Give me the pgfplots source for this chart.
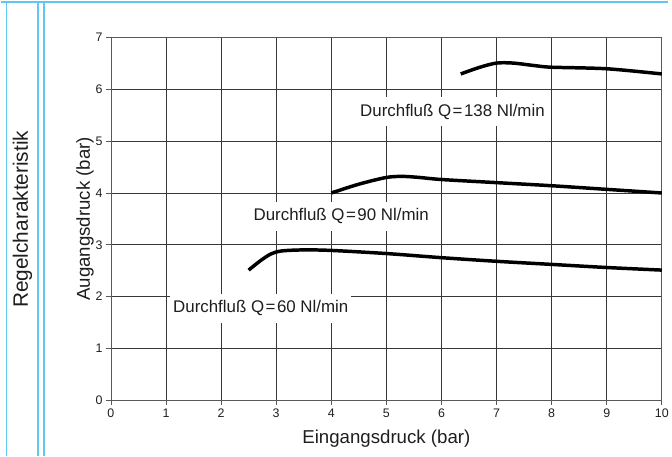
\documentclass[border=0pt]{standalone}
\usepackage{pgfplots}
\pgfplotsset{compat=1.18}
\usepackage{fontspec}
\setmainfont{Liberation Sans}
\definecolor{frameblue}{RGB}{95,200,240}
\definecolor{gridgray}{RGB}{55,55,55}
\definecolor{txt}{RGB}{30,30,30}

\begin{document}
\begin{tikzpicture}
\path (0pt,0pt) rectangle (672pt,459pt);
% blue frame of the data sheet
\draw[frameblue, line width=1.5pt] (0pt,457pt) -- (672pt,457pt);
\foreach \xx in {5.5,37.5,43.5} \draw[frameblue, line width=1.2pt] (\xx pt,0pt) -- (\xx pt,457pt);
\node[rotate=90, text=txt, font=\fontsize{21}{21}\selectfont] at (22pt,238pt) {Regelcharakteristik};

\begin{axis}[
    at={(111pt,56pt)}, anchor=south west,
    scale only axis, width=555pt, height=365pt,
    xmin=0, xmax=10, ymin=0, ymax=7,
    xtick={0,1,...,10}, ytick={0,1,...,7},
    tick pos=left, tick align=outside, major tick length=5pt,
    grid=major,
    major grid style={gridgray, line width=0.8pt},
    axis line style={gray!70!black, line width=0.8pt},
    tick style={gray!70!black, line width=0.8pt},
    ticklabel style={text=txt, font=\fontsize{12.5}{13}\selectfont},
    /pgf/number format/assume math mode=true,
    xlabel={Eingangsdruck (bar)},
    ylabel={Augangsdruck (bar)},
    label style={text=txt, font=\fontsize{18.8}{19}\selectfont},
    x label style={at={(axis description cs:0.5,-0.107)}, anchor=center},
    y label style={at={(axis description cs:-0.047,0.5)}, anchor=center},
]
% Q = 60 Nl/min
\addplot[black, line width=3.5pt, smooth, tension=0.5] coordinates {
    (2.5,2.51) (2.7,2.68) (2.9,2.82) (3.1,2.88) (3.5,2.90) (4,2.89)
    (5,2.83) (6,2.75) (7,2.68) (8,2.62) (9,2.56) (10,2.51)
};
% Q = 90 Nl/min
\addplot[black, line width=3.5pt, smooth, tension=0.5] coordinates {
    (4,4.00) (4.5,4.17) (5,4.30) (5.3,4.32) (5.6,4.30) (6,4.26)
    (7,4.20) (8,4.14) (9,4.07) (10,4.00)
};
% Q = 138 Nl/min
\addplot[black, line width=3.5pt, smooth, tension=0.5] coordinates {
    (6.35,6.30) (6.7,6.43) (7.0,6.51) (7.3,6.51) (7.7,6.46) (8,6.43)
    (9,6.40) (10,6.30)
};
\node[fill=white, text=txt, inner xsep=3pt, inner ysep=7pt, font=\fontsize{17}{17}\selectfont]
    at (axis cs:6.2,5.57) {Durchfluß Q\kern1.5pt=\kern1.5pt138 Nl/min};
\node[fill=white, text=txt, inner xsep=3pt, inner ysep=7pt, font=\fontsize{17}{17}\selectfont]
    at (axis cs:4.18,3.55) {Durchfluß Q\kern1.5pt=\kern1.5pt90 Nl/min};
\node[fill=white, text=txt, inner xsep=3pt, inner ysep=7pt, font=\fontsize{17}{17}\selectfont]
    at (axis cs:2.72,1.77) {Durchfluß Q\kern1.5pt=\kern1.5pt60 Nl/min};
\end{axis}
\end{tikzpicture}
\end{document}
